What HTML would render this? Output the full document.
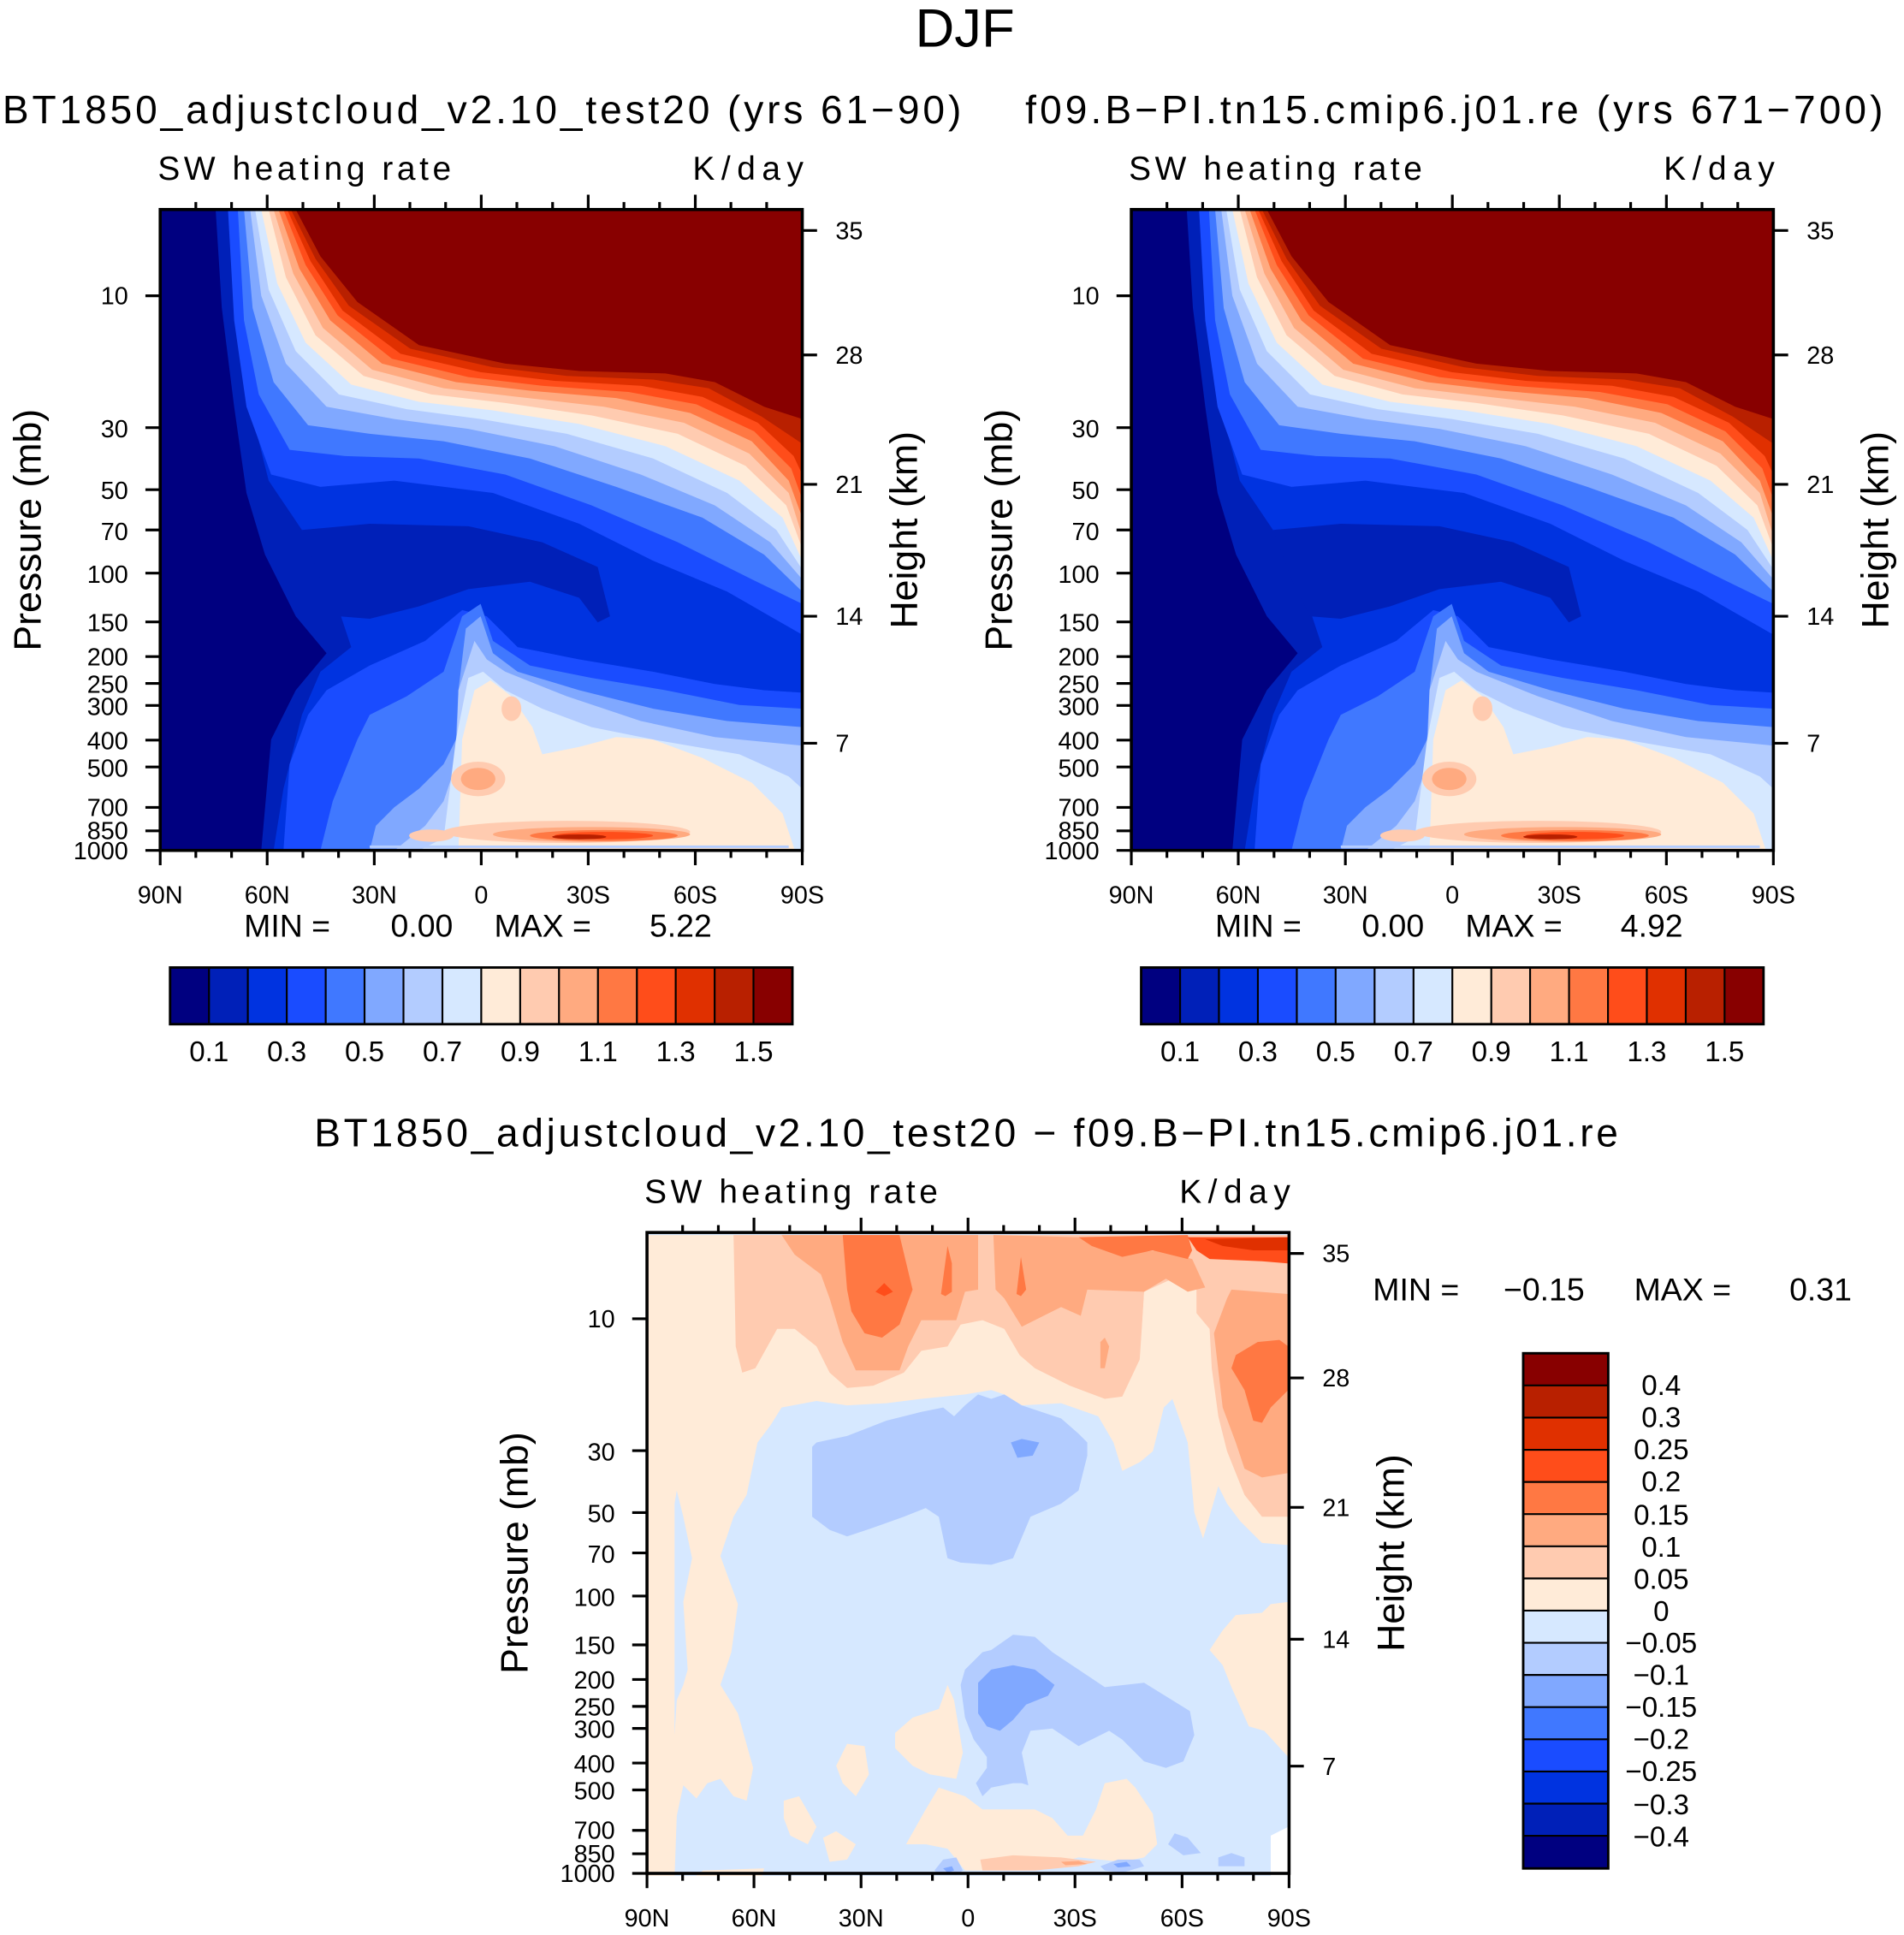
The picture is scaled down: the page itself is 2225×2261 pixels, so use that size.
<!DOCTYPE html>
<html><head><meta charset="utf-8"><style>html,body{margin:0;padding:0;background:#fff}svg{display:block}text{font-family:"Liberation Sans",sans-serif;fill:#000}</style></head>
<body>
<svg width="2225" height="2261" viewBox="0 0 1545 1570" preserveAspectRatio="none" xmlns="http://www.w3.org/2000/svg" xmlns:xlink="http://www.w3.org/1999/xlink">
<defs>
<clipPath id="cp"><rect x="130" y="170" width="521" height="520"/></clipPath>
<clipPath id="cpb"><rect x="525" y="1001" width="520" height="521"/></clipPath>
<g id="field" clip-path="url(#cp)">
<rect x="130" y="170" width="521" height="520" fill="#000080"/>
<polygon fill="#0020b8" points="175,170 180,250 190,330 200,400 215,450 240,500 265,530 240,560 220,600 212,690 651,690 651,170"/>
<polygon fill="#0033e0" points="187,170 192,250 203,330 218,390 245,430 270,480 285,525 260,545 245,580 230,640 222,690 651,690 651,170"/>
<polygon fill="#0020b8" points="245,430 300,425 380,427 440,440 485,460 495,500 485,505 470,485 430,472 380,478 340,492 300,502 275,500 260,470"/>
<polygon fill="#1a4cff" points="185,170 190,260 200,330 220,385 260,395 320,390 400,400 470,425 530,455 590,480 651,515 651,170"/>
<polygon fill="#4078ff" points="193,170 198,260 210,320 235,365 280,370 340,372 410,385 480,410 550,440 610,470 651,490 651,170"/>
<polygon fill="#80a8ff" points="198,170 205,250 222,310 250,345 300,352 360,358 430,372 500,395 570,420 620,450 651,480 651,170"/>
<polygon fill="#b3ccff" points="203,170 212,240 232,295 265,330 320,340 380,348 450,362 520,385 580,410 625,440 651,470 651,170"/>
<polygon fill="#d6e8ff" points="207,170 218,235 240,285 275,320 330,332 390,340 460,352 530,372 590,400 630,430 651,462 651,170"/>
<polygon fill="#ffebd8" points="212,170 225,230 248,278 285,312 340,326 400,333 470,344 540,362 600,390 635,420 651,455 651,170"/>
<polygon fill="#ffcbb0" points="218,170 232,225 256,272 295,305 350,320 410,327 480,337 550,352 605,378 638,410 651,445 651,170"/>
<polygon fill="#ffaa80" points="222,170 238,222 262,266 302,300 360,315 420,322 490,330 555,343 608,368 640,400 651,435 651,170"/>
<polygon fill="#ff7843" points="226,170 243,218 268,260 310,295 370,310 430,317 500,323 560,335 610,358 640,390 651,420 651,170"/>
<polygon fill="#ff4d1a" points="230,170 248,215 274,256 318,291 380,306 440,313 510,318 565,328 612,350 642,380 651,405 651,170"/>
<polygon fill="#e03000" points="233,170 252,212 278,252 325,287 390,302 450,309 520,313 570,322 615,343 644,370 651,385 651,170"/>
<polygon fill="#b82000" points="236,170 256,210 283,248 333,283 400,298 460,305 530,308 575,315 618,338 651,360 651,170"/>
<polygon fill="#880000" points="240,170 260,208 290,245 340,280 410,295 470,301 540,303 580,310 620,330 651,340 651,170"/>
<polygon fill="#1a4cff" points="265,560 300,540 345,520 375,495 395,500 420,525 470,535 530,545 580,555 620,560 651,562 651,690 230,690 235,620 250,580"/>
<polygon fill="#4078ff" points="290,600 300,580 330,565 360,545 375,500 390,490 400,520 430,540 480,550 540,560 600,572 651,575 651,690 260,690 270,650"/>
<polygon fill="#80a8ff" points="320,655 340,640 360,620 370,600 372,560 378,510 390,500 400,530 420,545 470,560 530,575 590,585 651,590 651,690 300,690 305,670"/>
<polygon fill="#b3ccff" points="345,670 360,650 370,620 372,560 385,520 395,535 410,545 460,565 520,585 580,598 651,605 651,690 320,690"/>
<polygon fill="#d6e8ff" points="360,680 365,640 370,600 380,550 392,545 410,560 440,575 480,590 530,600 600,612 640,630 651,640 651,690 340,690"/>
<polygon fill="#ffebd8" points="372,690 375,600 385,560 398,552 415,565 432,590 440,612 470,606 500,598 530,600 570,615 610,635 635,660 645,690"/>
<ellipse fill="#ffcbb0" cx="388" cy="632" rx="22" ry="14"/>
<ellipse fill="#ffcbb0" cx="460" cy="675" rx="100" ry="9"/>
<ellipse fill="#ffcbb0" cx="350" cy="678" rx="18" ry="5"/>
<ellipse fill="#ffcbb0" cx="415" cy="575" rx="8" ry="10"/>
<ellipse fill="#ffaa80" cx="388" cy="632" rx="14" ry="9"/>
<ellipse fill="#ffaa80" cx="480" cy="677" rx="80" ry="6"/>
<ellipse fill="#ff7843" cx="490" cy="678" rx="60" ry="4.5"/>
<ellipse fill="#ff4d1a" cx="490" cy="678" rx="40" ry="3"/>
<ellipse fill="#b82000" cx="470" cy="679" rx="22" ry="2"/>
<rect x="300" y="686" width="340" height="2" fill="#b3ccff"/>
</g>
<g id="axes" fill="none">
<rect x="130" y="170" width="521" height="520" stroke="#000" stroke-width="2.5"/>
<path stroke="#000" stroke-width="2.2" d="M216.8 170V158M303.7 170V158M390.5 170V158M477.3 170V158M564.2 170V158
M158.9 170V164M187.9 170V164M245.8 170V164M274.7 170V164M332.6 170V164M361.6 170V164M419.4 170V164M448.4 170V164M506.3 170V164M535.2 170V164M593.1 170V164M622.1 170V164
M130 690V702M216.8 690V702M303.7 690V702M390.5 690V702M477.3 690V702M564.2 690V702M651 690V702
M158.9 690V696M187.9 690V696M245.8 690V696M274.7 690V696M332.6 690V696M361.6 690V696M419.4 690V696M448.4 690V696M506.3 690V696M535.2 690V696M593.1 690V696M622.1 690V696
M130 240H118M130 347H118M130 397.3H118M130 430H118M130 465H118M130 504.6H118M130 532.7H118M130 554.5H118M130 572.4H118M130 600.5H118M130 622.3H118M130 655.1H118M130 674.1H118M130 690H118
M651 187H663M651 288H663M651 393H663M651 500H663M651 603H663"/>
<g font-size="20" text-anchor="end" fill="#000" stroke="none">
<text x="104" y="247">10</text><text x="104" y="355">30</text><text x="104" y="405">50</text><text x="104" y="438">70</text><text x="104" y="473">100</text><text x="104" y="512">150</text><text x="104" y="540">200</text><text x="104" y="562">250</text><text x="104" y="580">300</text><text x="104" y="608">400</text><text x="104" y="630">500</text><text x="104" y="662">700</text><text x="104" y="681">850</text><text x="104" y="697">1000</text>
</g>
<g font-size="20" fill="#000" stroke="none">
<text x="678" y="194">35</text><text x="678" y="295">28</text><text x="678" y="400">21</text><text x="678" y="507">14</text><text x="678" y="610">7</text>
</g>
<g font-size="20" text-anchor="middle" fill="#000" stroke="none">
<text x="130" y="733">90N</text><text x="216.8" y="733">60N</text><text x="303.7" y="733">30N</text><text x="390.5" y="733">0</text><text x="477.3" y="733">30S</text><text x="564.2" y="733">60S</text><text x="651" y="733">90S</text>
</g>
<text x="128" y="146" font-size="27" fill="#000" stroke="none" textLength="238">SW heating rate</text>
<text x="562" y="146" font-size="27" fill="#000" stroke="none" textLength="90">K/day</text>
<text transform="translate(33,430) rotate(-90)" font-size="31" text-anchor="middle" fill="#000" stroke="none">Pressure (mb)</text>
<text transform="translate(744,430) rotate(-90)" font-size="31" text-anchor="middle" fill="#000" stroke="none">Height (km)</text>
</g>
<g id="cbar">
<rect x="138" y="785" width="31.6" height="46" fill="#000080"/><rect x="169.6" y="785" width="31.6" height="46" fill="#0020b8"/><rect x="201.1" y="785" width="31.6" height="46" fill="#0033e0"/><rect x="232.7" y="785" width="31.6" height="46" fill="#1a4cff"/><rect x="264.3" y="785" width="31.6" height="46" fill="#4078ff"/><rect x="295.8" y="785" width="31.6" height="46" fill="#80a8ff"/><rect x="327.4" y="785" width="31.6" height="46" fill="#b3ccff"/><rect x="359" y="785" width="31.6" height="46" fill="#d6e8ff"/><rect x="390.5" y="785" width="31.6" height="46" fill="#ffebd8"/><rect x="422.1" y="785" width="31.6" height="46" fill="#ffcbb0"/><rect x="453.6" y="785" width="31.6" height="46" fill="#ffaa80"/><rect x="485.2" y="785" width="31.6" height="46" fill="#ff7843"/><rect x="516.8" y="785" width="31.6" height="46" fill="#ff4d1a"/><rect x="548.3" y="785" width="31.6" height="46" fill="#e03000"/><rect x="579.9" y="785" width="31.6" height="46" fill="#b82000"/><rect x="611.4" y="785" width="31.6" height="46" fill="#880000"/>
<path fill="none" stroke="#000" stroke-width="1.5" d="M169.6 785V831M201.1 785V831M232.7 785V831M264.3 785V831M295.8 785V831M327.4 785V831M359 785V831M390.5 785V831M422.1 785V831M453.6 785V831M485.2 785V831M516.8 785V831M548.3 785V831M579.9 785V831M611.4 785V831"/>
<rect x="138" y="785" width="505" height="46" fill="none" stroke="#000" stroke-width="2"/>
<g font-size="23" text-anchor="middle"><text x="169.6" y="861">0.1</text><text x="232.7" y="861">0.3</text><text x="295.8" y="861">0.5</text><text x="359" y="861">0.7</text><text x="422.1" y="861">0.9</text><text x="485.2" y="861">1.1</text><text x="548.3" y="861">1.3</text><text x="611.4" y="861">1.5</text></g>
</g>
</defs>

<text x="783" y="38" font-size="44" text-anchor="middle">DJF</text>
<text x="2" y="100" font-size="32" textLength="778">BT1850_adjustcloud_v2.10_test20 (yrs 61−90)</text>
<text x="832" y="100" font-size="32" textLength="696">f09.B−PI.tn15.cmip6.j01.re (yrs 671−700)</text>

<use xlink:href="#field"/>
<use xlink:href="#field" transform="translate(788,0)"/>
<use xlink:href="#axes"/>
<use xlink:href="#axes" transform="translate(788,0)"/>
<use xlink:href="#cbar"/>
<use xlink:href="#cbar" transform="translate(788,0)"/>

<g font-size="26">
<text x="198" y="760">MIN  =</text><text x="317" y="760">0.00</text><text x="401" y="760">MAX  =</text><text x="527" y="760">5.22</text>
<text x="986" y="760">MIN  =</text><text x="1105" y="760">0.00</text><text x="1189" y="760">MAX  =</text><text x="1315" y="760">4.92</text>
</g>

<text x="255" y="930" font-size="32" textLength="1058">BT1850_adjustcloud_v2.10_test20 − f09.B−PI.tn15.cmip6.j01.re</text>

<g clip-path="url(#cpb)">
<rect x="525" y="1001" width="520" height="521" fill="#d6e8ff"/>
<g transform="translate(520.8,986.1) scale(0.3544)">
<polygon fill="#ffebd8" points="15,45 1480,45 1480,755 1420,750 1370,700 1340,660 1320,620 1285,740 1265,680 1250,520 1215,420 1195,440 1170,540 1140,565 1100,585 1080,520 1045,460 960,430 870,435 830,410 800,400 740,410 640,420 560,430 470,435 400,425 320,440 295,480 265,520 240,640 210,690 180,780 220,890 205,1000 180,1075 220,1140 255,1265 240,1340 210,1330 180,1290 150,1300 125,1335 95,1305 80,1375 75,1515 15,1515"/>
<polygon fill="#d6e8ff" points="75,660 80,630 95,690 115,785 95,885 105,1040 95,1075 80,1110 75,1190"/>
<polygon fill="#ffebd8" points="1480,885 1440,890 1420,910 1360,915 1330,950 1300,995 1330,1030 1350,1080 1390,1170 1425,1180 1480,1240"/>
<polygon fill="#ffebd8" points="580,1185 620,1150 680,1130 700,1075 715,1110 735,1230 720,1290 660,1280 620,1260 580,1220"/>
<polygon fill="#ffebd8" points="445,1260 470,1210 510,1215 520,1280 490,1330 460,1300"/>
<polygon fill="#ffebd8" points="325,1340 360,1330 400,1400 380,1440 340,1420 325,1380"/>
<polygon fill="#ffebd8" points="415,1425 445,1410 490,1440 470,1475 430,1480"/>
<polygon fill="#ffebd8" points="605,1440 650,1360 680,1310 740,1330 780,1360 900,1360 940,1380 975,1420 1010,1420 1040,1360 1060,1300 1110,1290 1130,1310 1170,1370 1180,1440 1150,1470 1100,1480 1000,1470 880,1500 740,1500 700,1450 650,1440"/>
<polygon fill="#ffebd8" points="120,1515 140,1500 280,1495 275,1515"/>
<polygon fill="#ffcbb0" points="210,45 1480,45 1480,690 1420,690 1380,640 1340,540 1320,460 1305,350 1300,260 1250,200 1150,180 1140,330 1100,415 1060,420 980,390 900,350 865,320 830,260 780,240 730,250 700,300 640,310 600,360 530,390 470,395 430,360 400,300 350,260 310,260 260,350 230,360 215,300"/>
<polygon fill="#ffebd8" points="1150,175 1215,145 1270,170 1270,700 1250,520 1215,420 1195,440 1170,540 1140,565 1100,585 1120,450 1140,350"/>
<polygon fill="#ffaa80" points="320,45 770,45 770,170 740,175 720,240 690,240 640,240 610,300 590,355 490,355 460,290 430,190 410,135 350,90"/>
<polygon fill="#ffaa80" points="805,45 1000,50 1100,90 1180,80 1260,100 1290,165 1250,175 1200,145 1150,175 1020,170 1005,230 960,210 910,235 870,255 830,190 810,170"/>
<polygon fill="#ffaa80" points="1480,180 1350,170 1340,190 1310,270 1330,440 1360,520 1380,580 1420,600 1480,590"/>
<polygon fill="#ffaa80" points="1050,290 1060,280 1070,300 1060,350 1050,350"/>
<polygon fill="#ff7843" points="460,45 590,45 620,170 590,250 550,280 510,270 480,220 470,170"/>
<polygon fill="#ff7843" points="685,180 700,70 710,110 710,175 695,185"/>
<polygon fill="#ff7843" points="858,180 868,95 880,170 868,185"/>
<polygon fill="#ff7843" points="1000,50 1250,45 1260,80 1250,100 1170,80 1100,95 1030,70"/>
<polygon fill="#ff7843" points="1360,320 1410,290 1460,285 1480,300 1480,400 1440,440 1420,475 1400,470 1380,400 1350,350"/>
<polygon fill="#ff4d1a" points="535,175 555,155 575,175 555,185"/>
<polygon fill="#ff4d1a" points="1250,50 1480,50 1480,110 1420,105 1300,100 1270,80"/>
<polygon fill="#e03000" points="1290,55 1480,50 1480,80 1400,80 1330,70"/>
<polygon fill="#b3ccff" points="390,530 400,520 470,505 560,470 640,450 690,440 715,460 740,435 770,410 800,420 830,410 870,435 960,465 1000,500 1020,520 1020,550 1000,630 960,660 890,690 850,785 800,800 730,795 700,785 680,690 650,670 600,690 530,715 470,735 430,720 390,690"/>
<polygon fill="#b3ccff" points="730,1075 740,1040 780,1000 800,995 850,960 900,965 940,1000 1000,1040 1060,1080 1150,1070 1255,1135 1265,1190 1240,1250 1200,1265 1150,1250 1100,1200 1070,1180 1000,1215 940,1175 890,1180 870,1230 885,1305 870,1300 850,1300 800,1310 780,1330 765,1300 790,1265 790,1240 760,1200 740,1150"/>
<polygon fill="#b3ccff" points="1205,1440 1220,1415 1250,1425 1280,1460 1240,1465"/>
<polygon fill="#b3ccff" points="1320,1470 1350,1460 1380,1470 1380,1490 1320,1490"/>
<polygon fill="#b3ccff" points="670,1500 690,1475 720,1470 735,1500 720,1510 680,1510"/>
<polygon fill="#b3ccff" points="1050,1490 1090,1475 1140,1475 1150,1490 1100,1505 1060,1500"/>
<polygon fill="#80a8ff" points="845,520 870,512 910,520 895,550 860,555"/>
<polygon fill="#80a8ff" points="770,1070 800,1040 850,1030 900,1040 945,1075 930,1100 880,1120 850,1155 820,1180 790,1170 770,1140"/>
<polygon fill="#80a8ff" points="690,1495 710,1490 715,1500 700,1505"/>
<polygon fill="#80a8ff" points="1080,1485 1110,1480 1120,1490 1090,1493"/>
<polygon fill="#ffcbb0" points="775,1475 850,1465 960,1470 1040,1480 1000,1490 900,1500 780,1500"/>
<polygon fill="#ffaa80" points="960,1480 1000,1478 1020,1485 970,1488"/>
<polygon fill="#ffffff" points="1440,1420 1480,1400 1480,1515 1440,1515"/>
</g>
</g>
<use xlink:href="#axes" transform="translate(395,830)"/>

<g font-size="26">
<text x="1114" y="1055">MIN  =</text><text x="1220" y="1055">−0.15</text><text x="1326" y="1055">MAX  =</text><text x="1452" y="1055">0.31</text>
</g>

<g>
<rect x="1236" y="1098" width="69" height="26.1" fill="#880000"/>
<rect x="1236" y="1124.1" width="69" height="26.1" fill="#b82000"/>
<rect x="1236" y="1150.2" width="69" height="26.1" fill="#e03000"/>
<rect x="1236" y="1176.3" width="69" height="26.1" fill="#ff4d1a"/>
<rect x="1236" y="1202.4" width="69" height="26.1" fill="#ff7843"/>
<rect x="1236" y="1228.5" width="69" height="26.1" fill="#ffaa80"/>
<rect x="1236" y="1254.6" width="69" height="26.1" fill="#ffcbb0"/>
<rect x="1236" y="1280.7" width="69" height="26.1" fill="#ffebd8"/>
<rect x="1236" y="1306.8" width="69" height="26.1" fill="#d6e8ff"/>
<rect x="1236" y="1332.9" width="69" height="26.1" fill="#b3ccff"/>
<rect x="1236" y="1359" width="69" height="26.1" fill="#80a8ff"/>
<rect x="1236" y="1385.1" width="69" height="26.1" fill="#4078ff"/>
<rect x="1236" y="1411.2" width="69" height="26.1" fill="#1a4cff"/>
<rect x="1236" y="1437.3" width="69" height="26.1" fill="#0033e0"/>
<rect x="1236" y="1463.4" width="69" height="26.1" fill="#0020b8"/>
<rect x="1236" y="1489.5" width="69" height="26.5" fill="#000080"/>
<path fill="none" stroke="#000" stroke-width="1.5" d="M1236 1124.1H1305M1236 1150.2H1305M1236 1176.3H1305M1236 1202.4H1305M1236 1228.5H1305M1236 1254.6H1305M1236 1280.7H1305M1236 1306.8H1305M1236 1332.9H1305M1236 1359H1305M1236 1385.1H1305M1236 1411.2H1305M1236 1437.3H1305M1236 1463.4H1305M1236 1489.5H1305"/>
<rect x="1236" y="1098" width="69" height="418" fill="none" stroke="#000" stroke-width="2"/>
<g font-size="23" text-anchor="middle">
<text x="1348" y="1132">0.4</text><text x="1348" y="1158">0.3</text><text x="1348" y="1184">0.25</text><text x="1348" y="1210">0.2</text><text x="1348" y="1237">0.15</text><text x="1348" y="1263">0.1</text><text x="1348" y="1289">0.05</text><text x="1348" y="1315">0</text><text x="1348" y="1341">−0.05</text><text x="1348" y="1367">−0.1</text><text x="1348" y="1393">−0.15</text><text x="1348" y="1419">−0.2</text><text x="1348" y="1445">−0.25</text><text x="1348" y="1472">−0.3</text><text x="1348" y="1498">−0.4</text>
</g>
</g>
</svg>
</body></html>
